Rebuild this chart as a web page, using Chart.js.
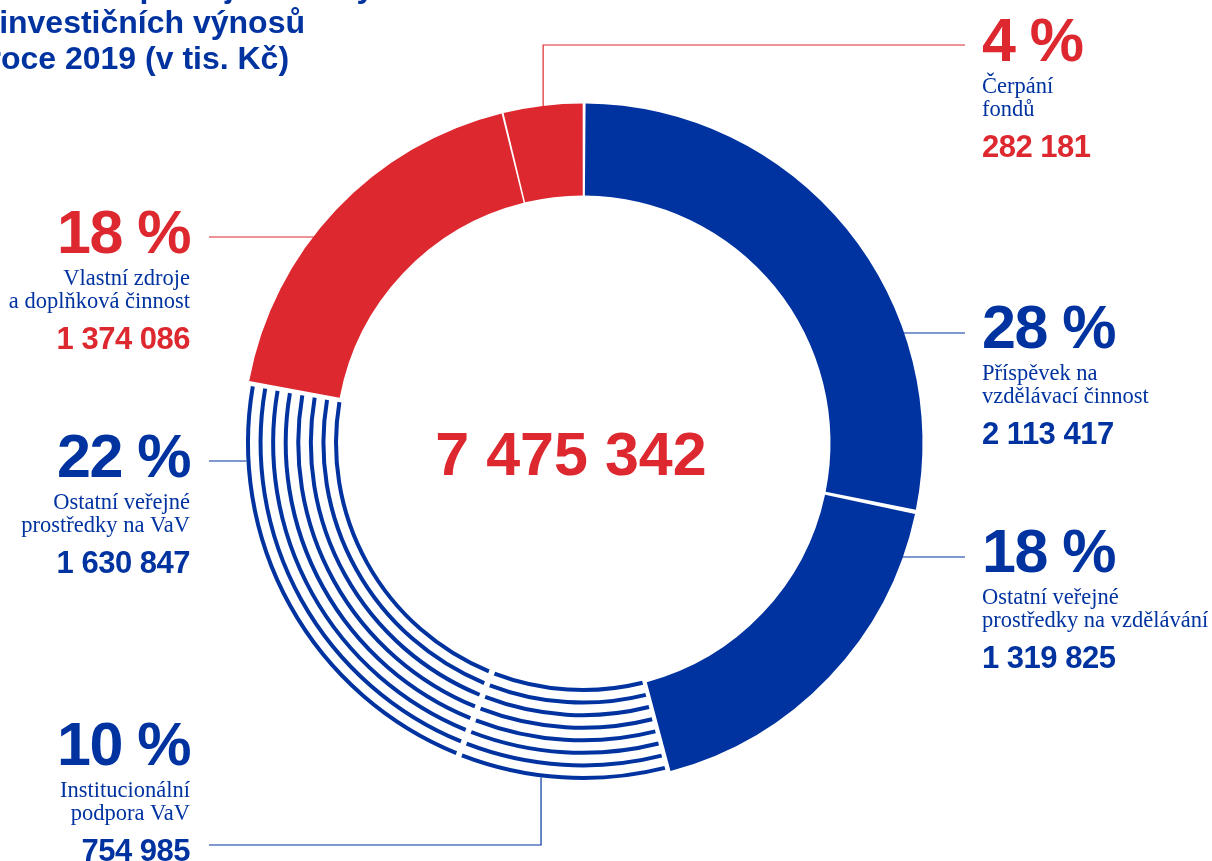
<!DOCTYPE html>
<html lang="cs">
<head>
<meta charset="utf-8">
<title>Struktura neinvestičních výnosů 2019</title>
<script src="https://cdn.jsdelivr.net/npm/chart.js@4.4.0/dist/chart.umd.min.js"></script>
<style>
    html, body { margin: 0; padding: 0; background: #ffffff; }
    #wrap { width: 1212px; height: 861px; position: relative; overflow: hidden; }
</style>
</head>
<body>
<div id="wrap"><canvas id="chart" width="1212" height="861"></canvas></div>
<script>
// --- data (clockwise from 12 o'clock) ---
const categories = [
    'Příspěvek na vzdělávací činnost',
    'Ostatní veřejné prostředky na vzdělávání',
    'Institucionální podpora VaV',
    'Ostatní veřejné prostředky na VaV',
    'Vlastní zdroje a doplňková činnost',
    'Čerpání fondů'
];
const labelLines = [
    ['Příspěvek na', 'vzdělávací činnost'],
    ['Ostatní veřejné', 'prostředky na vzdělávání'],
    ['Institucionální', 'podpora VaV'],
    ['Ostatní veřejné', 'prostředky na VaV'],
    ['Vlastní zdroje', 'a doplňková činnost'],
    ['Čerpání', 'fondů']
];
const values = [2113417, 1319825, 754985, 1630847, 1374086, 282181];
const totalLabel = '7 475 342';
const titleLines = ['Struktura a podíl jednotlivých', 'neinvestičních výnosů', 'v roce 2019 (v tis. Kč)'];

// --- styles ---
const BLUE = '#0033a0';
const RED = '#dc282e';
const segmentFill = [BLUE, BLUE, '#ffffff', '#ffffff', RED, RED];
const accent = [BLUE, BLUE, BLUE, BLUE, RED, RED];
const striped = [false, false, true, true, false, false];

// label placement (pct baseline y, leader line y, optional bend point along the arc)
const labelLayout = [
    { side: 'right', x: 982, y: 348, leadY: 333 },
    { side: 'right', x: 982, y: 572, leadY: 557 },
    { side: 'left', x: 190, y: 765, leadY: 845, via: 0.6 },
    { side: 'left', x: 190, y: 477, leadY: 461 },
    { side: 'left', x: 190, y: 253, leadY: 237 },
    { side: 'right', x: 982, y: 61, leadY: 45, via: 0.5 }
];

const SANS = '"Liberation Sans", Arial, sans-serif';
const SERIF = '"Liberation Serif", "DejaVu Serif", serif';

function formatNumber(v) {
    return String(v).replace(/\B(?=(\d{3})+(?!\d))/g, ' ');
}

const sum = values.reduce((a, b) => a + b, 0);
const percentLabels = values.map(v => Math.round(v / sum * 100) + ' %');

// concentric lines for the two "VaV" segments
const ringStripes = {
    id: 'ringStripes',
    afterDatasetsDraw(chart) {
        const ctx = chart.ctx;
        const meta = chart.getDatasetMeta(0);
        const spacing = chart.data.datasets[0].spacing || 0;
        const lines = 8;
        const lw = 4;
        meta.data.forEach((arc, i) => {
            if (!striped[i]) return;
            const p = arc.getProps(['x', 'y', 'startAngle', 'endAngle', 'innerRadius', 'outerRadius'], true);
            const step = (p.outerRadius - p.innerRadius - lw) / (lines - 1);
            ctx.save();
            ctx.strokeStyle = accent[i];
            ctx.lineWidth = lw;
            ctx.lineCap = 'butt';
            for (let k = 0; k < lines; k++) {
                const r = p.innerRadius + lw / 2 + k * step;
                const inset = (spacing / 2 + 0.5) / r;
                ctx.beginPath();
                ctx.arc(p.x, p.y, r, p.startAngle + inset, p.endAngle - inset);
                ctx.stroke();
            }
            ctx.restore();
        });
    }
};

// callout labels, leader lines, centre total and title
const calloutLabels = {
    id: 'calloutLabels',
    afterDraw(chart) {
        const ctx = chart.ctx;
        const meta = chart.getDatasetMeta(0);

        meta.data.forEach((arc, i) => {
            const p = arc.getProps(['x', 'y', 'startAngle', 'endAngle', 'outerRadius'], true);
            const L = labelLayout[i];
            const R = p.outerRadius;
            const endX = L.side === 'right' ? L.x - 17 : L.x + 19;

            // leader line
            ctx.save();
            ctx.strokeStyle = accent[i];
            ctx.lineWidth = 1.2;
            ctx.beginPath();
            if (L.via !== undefined) {
                const a = p.startAngle + L.via * (p.endAngle - p.startAngle);
                const px = p.x + R * Math.cos(a);
                const py = p.y + R * Math.sin(a);
                ctx.moveTo(px, py);
                ctx.lineTo(px, L.leadY);
                ctx.lineTo(endX, L.leadY);
            } else {
                const dy = L.leadY - p.y;
                const dx = Math.sqrt(Math.max(R * R - dy * dy, 0));
                const cx = L.side === 'right' ? p.x + dx : p.x - dx;
                ctx.moveTo(cx, L.leadY);
                ctx.lineTo(endX, L.leadY);
            }
            ctx.stroke();
            ctx.restore();

            // texts
            ctx.save();
            ctx.textAlign = L.side === 'right' ? 'left' : 'right';
            ctx.textBaseline = 'alphabetic';
            ctx.fillStyle = accent[i];
            ctx.font = 'bold 61px ' + SANS;
            ctx.letterSpacing = '-1.5px';
            ctx.fillText(percentLabels[i], L.x, L.y);
            ctx.letterSpacing = '0px';
            ctx.fillStyle = BLUE;
            ctx.font = '22.5px ' + SERIF;
            labelLines[i].forEach((t, k) => ctx.fillText(t, L.x, L.y + 32 + k * 23));
            ctx.fillStyle = accent[i];
            ctx.font = 'bold 31px ' + SANS;
            ctx.letterSpacing = '-0.5px';
            ctx.fillText(formatNumber(values[i]), L.x, L.y + 96);
            ctx.restore();
        });

        // centre total
        const c = meta.data[0].getProps(['x', 'y'], true);
        ctx.save();
        ctx.fillStyle = RED;
        ctx.font = 'bold 61px ' + SANS;
        ctx.textAlign = 'center';
        ctx.textBaseline = 'alphabetic';
        ctx.fillText(totalLabel, c.x - 12, c.y + 32);
        ctx.restore();

        // title (cut off at the top left, as in the source layout)
        ctx.save();
        ctx.fillStyle = BLUE;
        ctx.font = 'bold 32px ' + SANS;
        ctx.textAlign = 'left';
        const tx = 305 - ctx.measureText(titleLines[1]).width;
        titleLines.forEach((t, k) => ctx.fillText(t, tx, -3 + k * 36));
        ctx.restore();
    }
};

const ctx = document.getElementById('chart').getContext('2d');
new Chart(ctx, {
    type: 'doughnut',
    data: {
        labels: categories,
        datasets: [{
            data: values,
            backgroundColor: segmentFill,
            borderWidth: 0,
            spacing: 5,
            hoverOffset: 0
        }]
    },
    options: {
        responsive: false,
        animation: false,
        events: [],
        cutout: '72.7%',
        radius: 337,
        layout: { padding: { left: 245, right: 291, top: 105, bottom: 80 } },
        plugins: {
            legend: { display: false },
            tooltip: { enabled: false }
        }
    },
    plugins: [ringStripes, calloutLabels]
});
</script>
</body>
</html>
